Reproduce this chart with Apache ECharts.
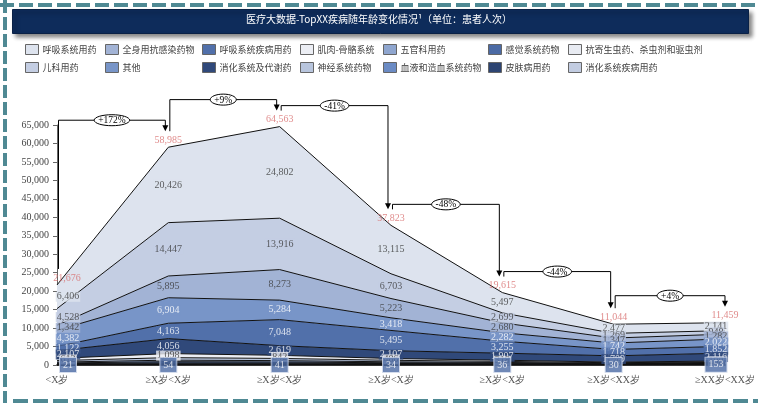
<!DOCTYPE html>
<html>
<head>
<meta charset="utf-8">
<script src="https://cdn.jsdelivr.net/npm/echarts@6/dist/echarts.min.js"></script>
<style>
  html, body { margin: 0; padding: 0; background: #ffffff; }
  #chart { width: 758px; height: 403px; }
</style>
</head>
<body>
<div id="chart"></div>
<script>
// Age bands on the x axis
const ageGroups = ['<X岁', '≥X岁<X岁', '≥X岁<X岁', '≥X岁<X岁', '≥X岁<X岁', '≥X岁<XX岁', '≥XX岁<XX岁'];

// Patient visits per drug class and age band
const respiratoryDrugs        = [6406, 20426, 24802, 13115, 5497, 2477, 2141];   // 呼吸系统用药
const pediatricDrugs          = [4528, 14447, 13916, 6703, 2699, 1269, 948];     // 儿科用药
const antiInfectiveDrugs      = [1342, 5895, 8273, 5223, 2680, 1347, 1282];      // 全身用抗感染药物
const otherDrugs              = [4382, 6904, 5284, 3418, 2282, 1742, 2022];      // 其他
const respiratoryDiseaseDrugs = [1122, 4163, 7048, 5495, 3255, 1718, 1852];      // 呼吸系统疾病用药
const digestiveMetabolicDrugs = [2107, 4056, 2619, 2107, 1907, 1709, 2116];      // 消化系统及代谢药
const musculoskeletalDrugs    = [612, 1098, 842, 486, 318, 176, 198];            // 肌肉-骨骼系统
const nervousSystemDrugs      = [402, 682, 596, 412, 296, 162, 184];             // 神经系统药物
const entDrugs                = [236, 418, 368, 262, 198, 118, 142];             // 五官科用药
const bloodDrugs              = [188, 326, 286, 198, 156, 96, 126];              // 血液和造血系统药物
const dermatologyDrugs        = [142, 242, 214, 154, 118, 78, 104];              // 皮肤病用药
const antiparasiticDrugs      = [118, 184, 168, 132, 104, 72, 98];               // 抗寄生虫药、杀虫剂和驱虫剂
const digestiveDiseaseDrugs   = [70, 90, 106, 84, 69, 50, 93];                   // 消化系统疾病用药
const sensoryDrugs            = [21, 54, 41, 34, 36, 30, 153];                   // 感觉系统药物

// Y axis range
const yAxisMax = 65000;
const yAxisStep = 5000;

// Stack order, bottom layer first
const stackOrder = [
  ['感觉系统药物', sensoryDrugs],
  ['消化系统疾病用药', digestiveDiseaseDrugs],
  ['抗寄生虫药、杀虫剂和驱虫剂', antiparasiticDrugs],
  ['皮肤病用药', dermatologyDrugs],
  ['血液和造血系统药物', bloodDrugs],
  ['五官科用药', entDrugs],
  ['神经系统药物', nervousSystemDrugs],
  ['肌肉-骨骼系统', musculoskeletalDrugs],
  ['消化系统及代谢药', digestiveMetabolicDrugs],
  ['呼吸系统疾病用药', respiratoryDiseaseDrugs],
  ['其他', otherDrugs],
  ['全身用抗感染药物', antiInfectiveDrugs],
  ['儿科用药', pediatricDrugs],
  ['呼吸系统用药', respiratoryDrugs]
];

const fills = {
  '呼吸系统用药': '#dde3ee',
  '儿科用药': '#c4cee3',
  '全身用抗感染药物': '#a2b3d5',
  '其他': '#7895c8',
  '呼吸系统疾病用药': '#5170aa',
  '消化系统及代谢药': '#30497a',
  '肌肉-骨骼系统': '#eceef4',
  '神经系统药物': '#b8c5dd',
  '五官科用药': '#8fa6cf',
  '血液和造血系统药物': '#6b8bc4',
  '皮肤病用药': '#2d4472',
  '抗寄生虫药、杀虫剂和驱虫剂': '#e8ebf2',
  '消化系统疾病用药': '#c2cce1',
  '感觉系统药物': '#4b6aa4'
};

// Layers that carry value labels, with their text colour
const labelInk = {
  '呼吸系统用药': '#3a3a3a',
  '儿科用药': '#3a3a3a',
  '全身用抗感染药物': '#3a3a3a',
  '其他': '#ffffff',
  '呼吸系统疾病用药': '#ffffff',
  '消化系统及代谢药': '#ffffff',
  '肌肉-骨骼系统': '#3a3a3a',
  '感觉系统药物': '#ffffff'
};

// Legend grid: columns of two entries
const legendColumns = [
  ['呼吸系统用药', '儿科用药'],
  ['全身用抗感染药物', '其他'],
  ['呼吸系统疾病用药', '消化系统及代谢药'],
  ['肌肉-骨骼系统', '神经系统药物'],
  ['五官科用药', '血液和造血系统药物'],
  ['感觉系统药物', '皮肤病用药'],
  ['抗寄生虫药、杀虫剂和驱虫剂', '消化系统疾病用药']
];
const legendLefts = [25, 105, 202, 300, 383, 488, 568];

const serif = '"Liberation Serif", "Times New Roman", serif';
const cjk = '"Noto Sans CJK SC", sans-serif';
const fmt = v => Number(v).toLocaleString('en-US');
const lastIdx = ageGroups.length - 1;
const edgeShift = i => (i === 0 ? 11 : (i === lastIdx ? -9 : 0));

// Build stacked area layers and their centred value labels
const cumulative = ageGroups.map(() => 0);
const areaSeries = [];
const labelSeries = [];
stackOrder.forEach(([name, vals]) => {
  areaSeries.push({
    name: name,
    type: 'line',
    stack: 'visits',
    data: vals,
    symbol: 'none',
    color: fills[name],
    lineStyle: { color: '#111111', width: 1 },
    areaStyle: { color: fills[name], opacity: 1 },
    emphasis: { disabled: true },
    silent: true,
    z: 2
  });
  if (labelInk[name]) {
    const isBottom = name === '感觉系统药物';
    labelSeries.unshift({
      type: 'scatter',
      silent: true,
      symbolSize: 0.1,
      itemStyle: { color: 'rgba(0,0,0,0)' },
      z: 5,
      data: vals.map((v, i) => ({
        value: [i, cumulative[i] + v / 2, v],
        label: { offset: [edgeShift(i), isBottom ? 0 : 0] }
      })),
      label: {
        show: true,
        position: 'inside',
        formatter: p => fmt(p.value[2]),
        color: labelInk[name],
        backgroundColor: fills[name],
        borderColor: isBottom ? '#c9d3e7' : 'transparent',
        borderWidth: isBottom ? 1 : 0,
        padding: isBottom ? [2, 3] : [0, 1],
        fontFamily: serif,
        fontSize: 10
      }
    });
  }
  vals.forEach((v, i) => { cumulative[i] += v; });
});
const totals = cumulative.slice();

// Column totals shown in red above each band
const totalSeries = {
  type: 'scatter',
  silent: true,
  symbolSize: 0.1,
  itemStyle: { color: 'rgba(0,0,0,0)' },
  z: 6,
  data: totals.map((t, i) => ({ value: [i, t], label: { offset: [i === 0 ? 10 : 0, 0] } })),
  label: {
    show: true,
    position: 'top',
    distance: 2,
    formatter: p => fmt(p.value[1]),
    color: '#d86f6f',
    fontFamily: serif,
    fontSize: 10
  }
};

// Step-change brackets between neighbouring columns
const measureCtx = document.createElement('canvas').getContext('2d');
const bracketFont = '9.5px ' + serif;
measureCtx.font = bracketFont;
const changes = totals.slice(0, -1).map((t, i) => [i, t, totals[i + 1]]);
const bracketSeries = {
  type: 'custom',
  coordinateSystem: 'cartesian2d',
  silent: true,
  clip: false,
  z: 10,
  data: changes,
  renderItem: (params, api) => {
    const i = api.value(0);
    const t0 = api.value(1);
    const t1 = api.value(2);
    const p0 = api.coord([i, t0]);
    const p1 = api.coord([i + 1, t1]);
    const x0 = p0[0] + 1.5;
    const x1 = p1[0] - (i + 1 === lastIdx ? 0 : 3);
    const yStart = p0[1] - 16;
    const yTip = p1[1] - 16;
    const yLevel = Math.min(p0[1], p1[1]) - (t1 > t0 ? 27 : 21);
    const pct = Math.round((t1 / t0 - 1) * 100);
    const text = (pct > 0 ? '+' : '') + pct + '%';
    const tw = measureCtx.measureText(text).width;
    const cx = (x0 + x1) / 2;
    return {
      type: 'group',
      children: [
        {
          type: 'polyline',
          shape: { points: [[x0, yStart], [x0, yLevel], [x1, yLevel], [x1, yTip - 5]] },
          style: { stroke: '#000000', lineWidth: 1, fill: null }
        },
        {
          type: 'polygon',
          shape: { points: [[x1 - 3, yTip - 6], [x1 + 3, yTip - 6], [x1, yTip]] },
          style: { fill: '#000000' }
        },
        {
          type: 'ellipse',
          shape: { cx: cx, cy: yLevel, rx: tw / 2 + 4, ry: 5.5 },
          style: { fill: '#ffffff', stroke: '#000000', lineWidth: 1 }
        },
        {
          type: 'text',
          style: {
            text: text, x: cx, y: yLevel + 0.5,
            align: 'center', verticalAlign: 'middle',
            font: bracketFont, fill: '#000000'
          }
        }
      ]
    };
  }
};

const legends = legendColumns.map((names, k) => ({
  orient: 'vertical',
  left: legendLefts[k],
  top: 44,
  padding: 0,
  itemGap: 7,
  itemWidth: 13,
  itemHeight: 10,
  icon: 'rect',
  selectedMode: false,
  data: names,
  itemStyle: { borderColor: '#666666', borderWidth: 1 },
  textStyle: { fontFamily: cjk, fontSize: 9, color: '#404040', lineHeight: 10, padding: [0, 0, 0, -1] }
}));

const chart = echarts.init(document.getElementById('chart'), null, { renderer: 'canvas' });
chart.setOption({
  animation: false,
  backgroundColor: '#ffffff',
  title: {
    text: '医疗大数据-TopXX疾病随年龄变化情况¹（单位：患者人次）',
    left: 'center',
    top: 14,
    padding: 0,
    textStyle: { color: '#ffffff', fontSize: 10, fontWeight: 'normal', fontFamily: cjk }
  },
  graphic: [
    { type: 'line', z: 0, shape: { x1: 0, y1: 5, x2: 758, y2: 5 }, style: { stroke: '#4f8993', lineWidth: 4, lineDash: [14, 5] } },
    { type: 'line', z: 0, shape: { x1: 5, y1: 0, x2: 5, y2: 403 }, style: { stroke: '#4f8993', lineWidth: 4, lineDash: [13, 4] } },
    { type: 'line', z: 0, shape: { x1: 13, y1: 401, x2: 758, y2: 401 }, style: { stroke: '#4f8993', lineWidth: 4, lineDash: [15, 5] } },
    {
      type: 'rect', z: 1, left: 12, top: 9,
      shape: { width: 736, height: 24 },
      style: { fill: '#0e2c5b', stroke: '#0a2146', lineWidth: 1, shadowBlur: 4, shadowOffsetX: 3, shadowOffsetY: 3, shadowColor: 'rgba(0,0,0,0.45)' }
    }
  ],
  legend: legends,
  grid: { left: 57, right: 25, top: 125, bottom: 38 },
  xAxis: {
    type: 'category',
    data: ageGroups,
    boundaryGap: false,
    axisLine: { lineStyle: { color: '#000000', width: 1.5 } },
    axisTick: { show: false },
    axisLabel: { fontFamily: serif, fontSize: 10, color: '#555555', margin: 10 },
    splitLine: { show: false }
  },
  yAxis: {
    type: 'value',
    min: 0,
    max: yAxisMax,
    interval: yAxisStep,
    axisLine: { show: true, lineStyle: { color: '#666666', width: 1 } },
    axisTick: { show: true, length: 4, lineStyle: { color: '#666666' } },
    axisLabel: { fontFamily: serif, fontSize: 10, color: '#444444', margin: 8, formatter: v => fmt(v) },
    splitLine: { show: false }
  },
  series: areaSeries.concat(labelSeries, [totalSeries, bracketSeries])
});
</script>
</body>
</html>
